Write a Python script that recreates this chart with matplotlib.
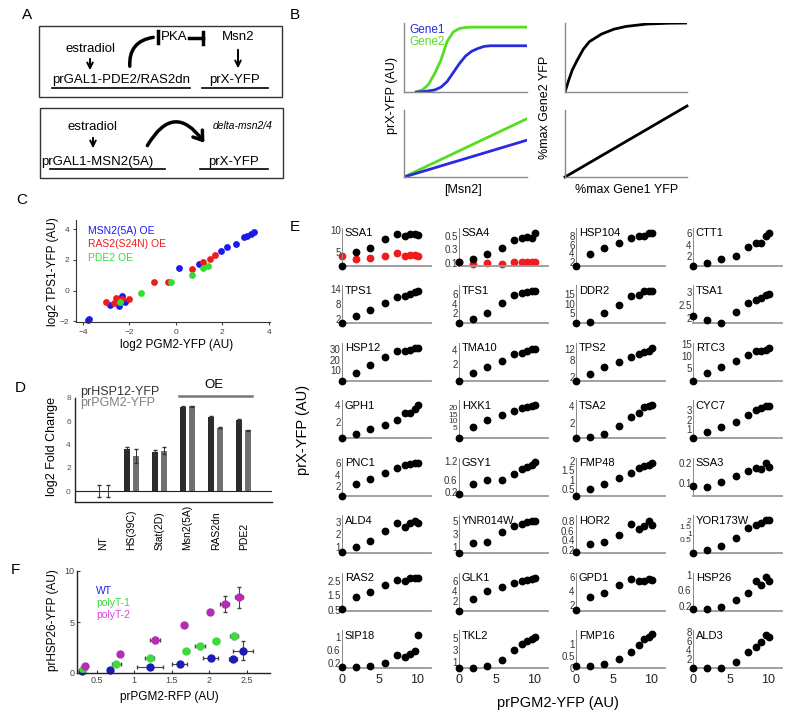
import matplotlib
matplotlib.use('Agg')
import matplotlib.pyplot as plt
from matplotlib.patches import Rectangle, FancyArrowPatch
from matplotlib import transforms

plt.rcParams['font.family'] = ['Liberation Sans', 'DejaVu Sans']

# ---------------- data ----------------
# Panel B (schematic curves)
msn2_level = [0.10, 0.15, 0.20, 0.25, 0.30, 0.35, 0.40, 0.45, 0.50, 0.55, 0.60, 0.65, 0.70, 0.80, 1.0]
gene2_sig = [0.0, 0.03, 0.11, 0.27, 0.46, 0.73, 0.87, 0.92, 0.935, 0.94, 0.94, 0.94, 0.94, 0.94, 0.94]
gene1_sig = [0.0, 0.005, 0.015, 0.03, 0.07, 0.15, 0.28, 0.41, 0.52, 0.59, 0.63, 0.66, 0.67, 0.67, 0.67]
msn2_lin = [0.0, 1.0]
gene2_lin = [0.0, 0.87]
gene1_lin = [0.0, 0.55]
gene1_pct = [0, 0.03, 0.06, 0.1, 0.15, 0.2, 0.3, 0.4, 0.5, 0.67, 0.85, 1.0]
gene2_pct_sat = [0, 0.17, 0.32, 0.46, 0.62, 0.73, 0.84, 0.91, 0.95, 0.985, 0.997, 1.0]
gene1_pct_lin = [0.0, 1.0]
gene2_pct_lin = [0.0, 1.06]

# Panel C
msn2_pgm2 = [-3.75, -3.8, -2.82, -2.46, -2.33, -2.18, 0.14, 1.0, 1.93, 2.22, 2.58, 2.93, 3.07, 3.22, 3.36]
msn2_tps1 = [-1.87, -1.95, -0.93, -0.98, -0.35, -0.76, 1.46, 1.74, 2.55, 2.81, 3.05, 3.47, 3.58, 3.69, 3.79]
ras2_pgm2 = [-3.03, -2.68, -2.58, -2.48, -2.32, -2.0, -0.96, -0.36, 0.69, 1.17, 1.47, 1.67]
ras2_tps1 = [-0.76, -0.82, -0.5, -0.72, -0.54, -0.54, 0.55, 0.59, 1.40, 1.86, 2.07, 2.33]
pde2_pgm2 = [-2.39, -1.5, -0.19, 0.71, 1.18, 1.40]
pde2_tps1 = [-0.76, -0.17, 0.59, 1.03, 1.50, 1.57]

# Panel D
d_conditions = ['NT', 'HS(39C)', 'Stat(2D)', 'Msn2(5A)', 'RAS2dn', 'PDE2']
hsp12_fc = [0.0, 3.65, 3.33, 7.25, 6.38, 6.14]
hsp12_err = [0.5, 0.15, 0.2, 0.04, 0.04, 0.04]
pgm2_fc = [0.0, 3.04, 3.48, 7.28, 5.45, 5.25]
pgm2_err = [0.5, 0.6, 0.3, 0.04, 0.04, 0.04]

# Panel E
e_pgm2 = [0, 1.9, 3.8, 5.8, 7.3, 8.4, 9.1, 9.8, 10.2]
e_genes = ['SSA1', 'SSA4', 'HSP104', 'CTT1', 'TPS1', 'TFS1', 'DDR2', 'TSA1',
           'HSP12', 'TMA10', 'TPS2', 'RTC3', 'GPH1', 'HXK1', 'TSA2', 'CYC7',
           'PNC1', 'GSY1', 'FMP48', 'SSA3', 'ALD4', 'YNR014W', 'HOR2', 'YOR173W',
           'RAS2', 'GLK1', 'GPD1', 'HSP26', 'SIP18', 'TKL2', 'FMP16', 'ALD3']
e_ylims = [(1.93, 10.45), (0.061, 0.61), (1.17, 9.72), (0.16, 6.96),
           (0.28, 15.5), (-0.06, 7.77), (-0.18, 19.5), (1.81, 3.24),
           (-0.4, 36.5), (-0.26, 5.0), (0.54, 14.4), (0.0, 15.4),
           (0.0, 4.57), (-3.0, 25.5), (0.11, 4.67), (0.06, 4.0),
           (0.16, 6.96), (0.08, 1.28), (0.13, 2.14), (0.033, 0.223),
           (0.46, 3.5), (-0.03, 5.8), (0.13, 0.93), (-0.54, 2.4),
           (0.43, 3.05), (-0.06, 7.54), (1.13, 6.64), (0.07, 1.05),
           (0.05, 1.19), (0.03, 6.2), (0.0, 1.54), (0.05, 8.3)]
e_ticks = [[5, 10], [0.1, 0.3, 0.5], [2, 4, 6, 8], [2, 4, 6],
           [2, 8, 14], [2, 4, 6], [5, 10, 15], [2, 2.5, 3],
           [10, 20, 30], [2, 4], [2, 8, 12], [5, 10, 15],
           [2, 4], [5, 10, 15, 20], [2, 4], [1, 2, 3],
           [2, 4, 6], [0.2, 0.6, 1.2], [0.5, 1, 1.5, 2], [0.1, 0.2],
           [1, 2, 3], [1, 3, 5], [0.2, 0.4, 0.6, 0.8], [0.5, 1, 1.5, 2],
           [0.5, 1.5, 2.5], [2, 4, 6], [2, 4, 6], [0.2, 0.6, 1],
           [0.2, 0.6, 1], [1, 3, 5], [0, 0.5, 1], [2, 4, 6, 8]]
yfp_row1 = [[1.93, 5.0, 6.0, 7.9, 9.0, 8.6, 9.0, 9.0, 8.8],
            [0.124, 0.16, 0.235, 0.317, 0.43, 0.46, 0.48, 0.47, 0.535],
            [1.17, 3.8, 5.15, 6.4, 7.4, 7.9, 7.95, 8.5, 8.6],
            [0.16, 0.64, 1.36, 2.0, 3.5, 4.2, 4.3, 5.5, 6.0]]
yfp_row2 = [[0.28, 3.2, 5.6, 8.3, 10.7, 11.4, 12.0, 13.0, 13.4],
            [-0.06, 0.76, 2.0, 4.2, 5.8, 6.1, 6.4, 6.6, 6.65],
            [-0.18, 0.7, 5.0, 9.3, 14.2, 14.5, 16.8, 16.8, 16.8],
            [2.09, 1.94, 1.84, 2.25, 2.59, 2.68, 2.78, 2.87, 2.9]]
yfp_row3 = [[-0.4, 7.4, 14.8, 22.9, 28.4, 28.4, 29.4, 31.6, 31.6],
            [-0.26, 0.85, 1.59, 2.48, 3.4, 3.6, 3.9, 4.1, 4.15],
            [0.54, 3.0, 5.4, 7.2, 9.3, 10.3, 10.9, 11.5, 12.4],
            [0.0, 3.25, 5.4, 8.1, 10.4, 12.2, 12.0, 12.6, 13.1]]
yfp_row4 = [[0.0, 0.52, 1.08, 1.6, 2.2, 3.08, 3.1, 3.48, 4.0],
            [-3.0, 5.7, 10.7, 14.5, 17.8, 19.5, 20.5, 21.5, 22.0],
            [0.11, 0.31, 0.63, 1.63, 2.63, 3.19, 3.83, 4.0, 4.1],
            [0.06, 0.75, 1.2, 1.8, 2.5, 3.0, 3.25, 3.4, 3.45]]
yfp_row5 = [[0.16, 2.25, 3.15, 4.2, 5.1, 5.7, 5.8, 6.1, 6.1],
            [0.14, 0.45, 0.57, 0.6, 0.76, 0.93, 1.0, 1.07, 1.14],
            [0.13, 0.48, 0.75, 1.07, 1.37, 1.6, 1.72, 1.77, 1.9],
            [0.083, 0.08, 0.105, 0.135, 0.16, 0.175, 0.17, 0.196, 0.18]]
yfp_row6 = [[0.6, 1.0, 1.45, 2.25, 2.86, 2.6, 2.9, 3.08, 2.9],
            [-0.03, 1.5, 1.77, 3.2, 4.1, 4.5, 4.8, 5.0, 5.0],
            [0.16, 0.33, 0.36, 0.52, 0.75, 0.64, 0.7, 0.81, 0.73],
            [-0.54, -0.29, 0.05, 0.61, 1.39, 1.64, 1.8, 2.0, 2.05]]
yfp_row7 = [[0.55, 1.42, 1.73, 2.22, 2.57, 2.53, 2.68, 2.7, 2.68],
            [-0.06, 2.34, 4.0, 4.7, 5.6, 5.9, 6.1, 6.3, 6.5],
            [1.27, 3.1, 3.8, 4.9, 5.77, 5.5, 5.5, 5.77, 5.6],
            [0.11, 0.11, 0.165, 0.35, 0.53, 0.85, 0.74, 0.94, 0.84]]
yfp_row8 = [[0.1, 0.1, 0.12, 0.22, 0.45, 0.4, 0.47, 0.58, 1.05],
            [0.03, 0.14, 0.4, 1.37, 3.0, 3.97, 4.4, 4.8, 5.05],
            [0.095, 0.1, 0.16, 0.37, 0.65, 0.95, 1.18, 1.28, 1.38],
            [0.05, 0.05, 0.2, 1.35, 3.67, 4.76, 5.84, 7.28, 6.93]]
ssa1_red = [4.17, 3.5, 3.8, 4.17, 4.77, 4.2, 4.4, 4.4, 4.2]
ssa4_red = [0.124, 0.086, 0.1, 0.095, 0.114, 0.12, 0.12, 0.114, 0.12]

# Panel F
wt_x = [0.30, 0.68, 1.21, 1.61, 2.02, 2.32, 2.45]
wt_y = [0.16, 0.33, 0.59, 0.92, 1.48, 1.41, 2.2]
wt_xerr = [0.02, 0.03, 0.17, 0.1, 0.1, 0.05, 0.13]
wt_yerr = [0.05, 0.05, 0.1, 0.1, 0.15, 0.1, 0.9]
pt1_x = [0.32, 0.76, 1.21, 1.69, 1.88, 2.09, 2.33]
pt1_y = [0.36, 0.92, 1.51, 2.16, 2.62, 3.11, 3.64]
pt1_xerr = [0.02, 0.06, 0.06, 0.04, 0.07, 0.04, 0.05]
pt1_yerr = [0.1, 0.1, 0.2, 0.15, 0.25, 0.15, 0.3]
pt2_x = [0.34, 0.81, 1.28, 1.67, 2.01, 2.21, 2.40]
pt2_y = [0.72, 1.9, 3.21, 4.69, 6.0, 6.79, 7.41]
pt2_xerr = [0.02, 0.02, 0.07, 0.03, 0.03, 0.06, 0.05]
pt2_yerr = [0.1, 0.15, 0.3, 0.15, 0.2, 0.8, 1.0]

BLUE = '#2a2ae0'
GREEN = '#55dd22'
RED = '#ee1c1c'

# ---------------- figure ----------------
W, H = 800, 726
fig = plt.figure(figsize=(8, 7.26), dpi=100)

def px_axes(x0, y0, x1, y1):
    ax = fig.add_axes([x0 / W, 1 - y1 / H, (x1 - x0) / W, (y1 - y0) / H])
    ax.set_facecolor('none')
    return ax

def two_spines(ax, color='#777', lw=1.0):
    for s in ['top', 'right']:
        ax.spines[s].set_visible(False)
    for s in ['left', 'bottom']:
        ax.spines[s].set_color(color)
        ax.spines[s].set_linewidth(lw)

# overlay in pixel coordinates for labels and diagram
ov = fig.add_axes([0, 0, 1, 1])
ov.set_xlim(0, W)
ov.set_ylim(H, 0)
ov.axis('off')

for letter, (lx, ly) in zip('ABCDEF', [(27, 15), (295, 15), (22, 200), (20, 388), (295, 227), (15, 570)]):
    ov.text(lx, ly, letter, fontsize=11, ha='center', va='center')

# ---- Panel A: diagram ----
ov.add_patch(Rectangle((39, 26), 243, 71, fill=False, lw=1, ec='#333'))
ov.add_patch(Rectangle((40, 108), 243, 70, fill=False, lw=1, ec='#333'))
fs_a = 9.5
ov.text(90, 49, 'estradiol', fontsize=fs_a, ha='center', va='center')
ov.annotate('', xy=(90, 73), xytext=(90, 56),
            arrowprops=dict(arrowstyle='->', lw=1.4, color='k', mutation_scale=10))
ov.text(121, 80, 'prGAL1-PDE2/RAS2dn', fontsize=fs_a, ha='center', va='center')
ov.plot([52, 190], [87.5, 87.5], color='k', lw=1.2)
ov.text(235, 80, 'prX-YFP', fontsize=fs_a, ha='center', va='center')
ov.plot([202, 268], [87.5, 87.5], color='k', lw=1.2)
ov.text(238, 37, 'Msn2', fontsize=fs_a, ha='center', va='center')
ov.annotate('', xy=(238, 71), xytext=(238, 47),
            arrowprops=dict(arrowstyle='->', lw=1.4, color='k', mutation_scale=10))
ov.text(174, 37, 'PKA', fontsize=fs_a, ha='center', va='center')
ov.add_patch(FancyArrowPatch((130, 69), (156, 37), connectionstyle='arc3,rad=-0.5',
                             arrowstyle='-', lw=2.5, color='k'))
ov.plot([158, 158], [31, 43], color='k', lw=2.5)
ov.plot([189, 203], [37.5, 37.5], color='k', lw=2.5)
ov.plot([203, 203], [32, 44], color='k', lw=2.5)

ov.text(93, 127, 'estradiol', fontsize=fs_a, ha='center', va='center')
ov.annotate('', xy=(93, 151), xytext=(93, 135),
            arrowprops=dict(arrowstyle='->', lw=1.4, color='k', mutation_scale=10))
ov.text(97, 162, 'prGAL1-MSN2(5A)', fontsize=fs_a, ha='center', va='center')
ov.plot([50, 165], [169, 169], color='k', lw=1.2)
ov.text(243, 126, 'delta-msn2/4', fontsize=7.5, style='italic', ha='center', va='center')
ov.add_patch(FancyArrowPatch((146, 148), (206, 145), connectionstyle='arc3,rad=-0.8',
                             arrowstyle='->,head_length=0.5,head_width=0.35',
                             mutation_scale=12, lw=2.5, color='k'))
ov.text(234, 162, 'prX-YFP', fontsize=fs_a, ha='center', va='center')
ov.plot([200, 268], [169, 169], color='k', lw=1.2)

# ---- Panel B ----
axb1 = px_axes(404, 23, 527, 92)
axb1.plot(msn2_level, gene2_sig, color=GREEN, lw=2)
axb1.plot(msn2_level, gene1_sig, color=BLUE, lw=2)
axb1.text(0.04, 0.9, 'Gene1', color=BLUE, fontsize=8.5, transform=axb1.transAxes, va='center')
axb1.text(0.04, 0.72, 'Gene2', color=GREEN, fontsize=8.5, transform=axb1.transAxes, va='center')
axb2 = px_axes(404, 110, 527, 177)
axb2.plot(msn2_lin, gene2_lin, color=GREEN, lw=2)
axb2.plot(msn2_lin, gene1_lin, color=BLUE, lw=2)
axb3 = px_axes(565, 23, 687, 92)
axb3.plot(gene1_pct, gene2_pct_sat, color='k', lw=2)
axb4 = px_axes(565, 110, 687, 177)
axb4.plot(gene1_pct_lin, gene2_pct_lin, color='k', lw=2, clip_on=False)
for ax in [axb1, axb2, axb3, axb4]:
    ax.set_xlim(0, 1)
    ax.set_ylim(0, 1)
    ax.set_xticks([])
    ax.set_yticks([])
    two_spines(ax, '#888', 1.0)
ov.text(392, 95, 'prX-YFP (AU)', fontsize=9, rotation=90, ha='center', va='center')
ov.text(463, 190, '[Msn2]', fontsize=9, ha='center', va='center')
ov.text(545, 107, '%max Gene2 YFP', fontsize=9, rotation=90, ha='center', va='center')
ov.text(627, 190, '%max Gene1 YFP', fontsize=9, ha='center', va='center')

# ---- Panel C ----
axc = px_axes(76, 220, 270, 322)
axc.scatter(msn2_pgm2, msn2_tps1, s=24, color='#1a1af0', lw=0, clip_on=False)
axc.scatter(ras2_pgm2, ras2_tps1, s=24, color=RED, lw=0, clip_on=False)
axc.scatter(pde2_pgm2, pde2_tps1, s=24, color='#33dd33', lw=0, clip_on=False)
axc.set_xlim(-4.3, 4.05)
axc.set_ylim(-2.05, 4.6)
axc.set_xticks([-4, -2, 0, 2, 4])
axc.set_yticks([-2, 0, 2, 4])
axc.tick_params(labelsize=6, labelcolor='#444', length=2, color='#444', pad=3)
two_spines(axc, '#333', 0.8)
axc.text(0.06, 0.89, 'MSN2(5A) OE', color='#1a1af0', fontsize=7.5, transform=axc.transAxes, va='center')
axc.text(0.06, 0.76, 'RAS2(S24N) OE', color=RED, fontsize=7.5, transform=axc.transAxes, va='center')
axc.text(0.06, 0.63, 'PDE2 OE', color='#33dd33', fontsize=7.5, transform=axc.transAxes, va='center')
ov.text(177, 345, 'log2 PGM2-YFP (AU)', fontsize=8.5, ha='center', va='center')
ov.text(53, 272, 'log2 TPS1-YFP (AU)', fontsize=8.5, rotation=90, ha='center', va='center')

# ---- Panel D ----
axd = px_axes(75, 398, 272, 502)
pos = list(range(len(d_conditions)))
axd.bar([p - 0.16 for p in pos], hsp12_fc, width=0.21, color='#2c2c2c', yerr=hsp12_err,
        error_kw=dict(lw=0.7, capsize=1.5, ecolor='#333'))
axd.bar([p + 0.16 for p in pos], pgm2_fc, width=0.21, color='#707070', yerr=pgm2_err,
        error_kw=dict(lw=0.7, capsize=1.5, ecolor='#333'))
axd.axhline(0, color='#222', lw=0.8)
axd.set_xlim(-1, 6)
axd.set_ylim(-0.92, 8)
axd.set_xticks([])
axd.set_yticks([0, 2, 4, 6, 8])
axd.tick_params(labelsize=6, labelcolor='#555', length=0, pad=3)
two_spines(axd, '#222', 1.0)
blend = transforms.blended_transform_factory(axd.transData, ov.transData)
for p, lab in zip(pos, d_conditions):
    axd.text(p, 550, lab, transform=blend, rotation=90, ha='center', va='bottom', fontsize=7.5)
ov.text(80, 392, 'prHSP12-YFP', color='#333', fontsize=9, va='center')
ov.text(80, 403, 'prPGM2-YFP', color='#808080', fontsize=9, va='center')
ov.text(214, 385, 'OE', fontsize=9.5, ha='center', va='center')
ov.plot([179, 252], [396, 396], color='#777', lw=1.8)
ov.text(52, 447, 'log2 Fold Change', fontsize=9, rotation=90, ha='center', va='center')

# ---- Panel E ----
e_rows = [yfp_row1, yfp_row2, yfp_row3, yfp_row4, yfp_row5, yfp_row6, yfp_row7, yfp_row8]
col_left = [342, 459, 576, 693]
row_bottom = [266, 323.3, 380.7, 438.3, 496, 553.3, 611, 668.3]
for r, row in enumerate(e_rows):
    for c, vals in enumerate(row):
        k = r * 4 + c
        ax = px_axes(col_left[c], row_bottom[r] - 38, col_left[c] + 89, row_bottom[r])
        if k == 0:
            ax.plot(e_pgm2, ssa1_red, 'o', color=RED, ms=4.6, clip_on=False)
        if k == 1:
            ax.plot(e_pgm2, ssa4_red, 'o', color=RED, ms=4.6, clip_on=False)
        ax.plot(e_pgm2, vals, 'o', color='k', ms=4.6, clip_on=False, zorder=3)
        ax.set_xlim(0, 11.9)
        ax.set_ylim(*e_ylims[k])
        ax.set_yticks(e_ticks[k])
        ax.set_yticklabels([f'{t:g}' for t in e_ticks[k]])
        tick_fs = 6 if e_genes[k] in ('YOR173W', 'HXK1') else 7
        ax.tick_params(axis='y', length=0, pad=1, labelsize=tick_fs, labelcolor='#333')
        if r == len(e_rows) - 1:
            ax.set_xticks([0, 5, 10])
            ax.tick_params(axis='x', length=0, pad=4, labelsize=9, labelcolor='#222')
        else:
            ax.set_xticks([])
        for s in ['top', 'right']:
            ax.spines[s].set_visible(False)
        ax.spines['left'].set_color('#888')
        ax.spines['left'].set_linewidth(0.7)
        ax.spines['bottom'].set_color('#999')
        ax.spines['bottom'].set_linewidth(1.3)
        ax.text(0.03, 0.99, e_genes[k], transform=ax.transAxes, fontsize=8, va='top', ha='left')
ov.text(303, 430, 'prX-YFP (AU)', fontsize=10.5, rotation=90, ha='center', va='center')
ov.text(558, 703, 'prPGM2-YFP (AU)', fontsize=10.5, ha='center', va='center')

# ---- Panel F ----
axf = px_axes(77, 571, 270, 673)
ekw = dict(fmt='o', ms=5, ecolor='#444', elinewidth=0.8, capsize=1.5, clip_on=False)
axf.errorbar(wt_x, wt_y, xerr=wt_xerr, yerr=wt_yerr, color='#1c1cb4', **ekw)
axf.errorbar(pt1_x, pt1_y, xerr=pt1_xerr, yerr=pt1_yerr, color='#3ddc3d', **ekw)
axf.errorbar(pt2_x, pt2_y, xerr=pt2_xerr, yerr=pt2_yerr, color='#b52db5', **ekw)
axf.set_xlim(0.237, 2.81)
axf.set_ylim(0, 10)
axf.set_xticks([0.5, 1, 1.5, 2, 2.5])
axf.set_xticklabels(['0.5', '1', '1.5', '2', '2.5'])
axf.set_yticks([0, 5, 10])
axf.tick_params(labelsize=6.5, labelcolor='#444', length=2, direction='in', color='#333', pad=2)
two_spines(axf, '#222', 1.0)
ov.text(96, 591, 'WT', color='#2222dd', fontsize=7.5, va='center')
ov.text(96, 603, 'polyT-1', color='#33dd33', fontsize=7.5, va='center')
ov.text(96, 615, 'polyT-2', color='#e040e0', fontsize=7.5, va='center')
ov.text(53, 620, 'prHSP26-YFP (AU)', fontsize=8.5, rotation=90, ha='center', va='center')
ov.text(169, 697, 'prPGM2-RFP (AU)', fontsize=8.5, ha='center', va='center')

fig.savefig('out.png', dpi=100)
